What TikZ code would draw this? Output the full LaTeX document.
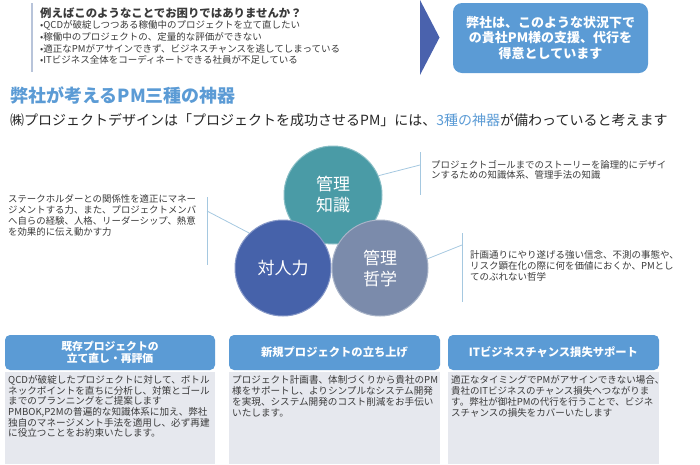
\documentclass[tikz,border=0pt]{standalone}
\usepackage{fontspec}
\setmainfont{Noto Sans CJK JP}
\definecolor{hblue}{HTML}{5B9BD5}
\definecolor{tealc}{HTML}{4A9BA6}
\definecolor{dblue}{HTML}{4662AA}
\definecolor{gblue}{HTML}{7B8BAB}
\definecolor{arrowblue}{HTML}{4A62AD}
\definecolor{bodygray}{HTML}{E6E8EE}
\definecolor{txt}{HTML}{3A3A3A}
\definecolor{linecol}{HTML}{A5C8E0}
\definecolor{barcol}{HTML}{B8C4DA}
\begin{document}
\begin{tikzpicture}[x=1pt,y=-1pt,
  lefttext/.style={anchor=west, align=left, inner sep=0pt, text=txt},
  circ/.style={circle, inner sep=0pt, text=white, align=center, font=\fontsize{17}{21}\selectfont, draw=white!35!#1, line width=1pt, fill=#1},
  hdr/.style={fill=hblue, rounded corners=5pt, text=white, align=center, minimum width=210pt, minimum height=35pt, inner sep=0pt, font=\bfseries\fontsize{10.8}{11.8}\selectfont},
  bodybox/.style={fill=bodygray, minimum width=210pt, minimum height=92pt, inner sep=0pt},
  conn/.style={draw=linecol, line width=0.8pt},
  bar/.style={draw=linecol, line width=0.8pt}
]
\useasboundingbox (0,0) rectangle (700,464);

% top-left question block
\coordinate (qb1) at (32,3);
\coordinate (qb2) at (32,72);
\draw[barcol, line width=1.2pt] (qb1) -- (qb2);
\node[lefttext, font=\bfseries\fontsize{11.4}{13}\selectfont] (qtitle) at (40,13) {例えばこのようなことでお困りではありませんか？};
\node[lefttext, font=\fontsize{9.5}{11.6}\selectfont] (qlist) at (40,42.7) {•QCDが破綻しつつある稼働中のプロジェクトを立て直したい\\•稼働中のプロジェクトの、定量的な評価ができない\\•適正なPMがアサインできず、ビジネスチャンスを逃してしまっている\\•ITビジネス全体をコーディネートできる社員が不足している};

% arrow
\fill[arrowblue] (420,0) -- (439.5,37.5) -- (420,75) -- cycle;

% message box
\node[fill=hblue, rounded corners=9pt, minimum width=195pt, minimum height=70pt, inner sep=0pt, text=white, align=center, font=\bfseries\fontsize{13}{15.5}\selectfont] (msg) at (550.5,38) {弊社は、このような状況下で\\の貴社PM様の支援、代行を\\得意としています};

% headings
\node[lefttext, text=hblue, font=\bfseries\fontsize{18}{20}\selectfont] (head) at (10,95) {弊社が考えるPM三種の神器};
\node[lefttext, text=black!85, font=\fontsize{14}{16}\selectfont] (sub) at (10,120) {㈱プロジェクトデザインは「プロジェクトを成功させるPM」には、\textcolor{hblue}{3種の神器}が備わっていると考えます};

% circles
\node[circ=tealc, minimum size=98pt] (c1) at (333,195) {管理\\知識};
\node[circ=dblue, minimum size=96pt] (c2) at (283,268) {対人力};
\node[circ=gblue, minimum size=96pt] (c3) at (380,268) {管理\\哲学};

% left description
\node[lefttext, font=\fontsize{9.4}{11}\selectfont] (d2) at (8,215.5) {ステークホルダーとの関係性を適正にマネー\\ジメントする力、また、プロジェクトメンバ\\へ自らの経験、人格、リーダーシップ、熱意\\を効果的に伝え動かす力};
\coordinate (b2t) at (207,197);
\coordinate (b2b) at (207,265);
\coordinate (b2m) at (207,211);
\draw[bar] (b2t) -- (b2b);
\draw[conn] (c2.134) -- (b2m);

% upper right description
\node[lefttext, font=\fontsize{9.4}{10.5}\selectfont] (d1) at (431,170) {プロジェクトゴールまでのストーリーを論理的にデザイ\\ンするための知識体系、管理手法の知識};
\coordinate (b1t) at (420,152);
\coordinate (b1b) at (420,195);
\coordinate (b1m) at (420,165);
\draw[bar] (b1t) -- (b1b);
\draw[conn] (c1.23) -- (b1m);

% lower right description
\node[lefttext, font=\fontsize{9.5}{11}\selectfont] (d3) at (470,266) {計画通りにやり遂げる強い信念、不測の事態や、\\リスク顕在化の際に何を価値におくか、PMとし\\てのぶれない哲学};
\coordinate (b3t) at (462,233);
\coordinate (b3b) at (462,302);
\coordinate (b3m) at (462,245);
\draw[bar] (b3t) -- (b3b);
\draw[conn] (c3.11) -- (b3m);

% bottom boxes
\node[bodybox] (bb1) at (110,418) {};
\node[bodybox, minimum width=211pt] (bb2) at (334.5,418) {};
\node[bodybox, minimum width=211pt] (bb3) at (553.5,418) {};
\node[hdr] (h1) at (110,352.5) {既存プロジェクトの\\立て直し・再評価};
\node[hdr, minimum width=211pt, font=\bfseries\fontsize{11.3}{13}\selectfont] (h2) at (334.5,352.5) {新規プロジェクトの立ち上げ};
\node[hdr, minimum width=211pt, font=\bfseries\fontsize{11.3}{13}\selectfont] (h3) at (553.5,352.5) {ITビジネスチャンス損失サポート};

\node[lefttext, font=\fontsize{9.6}{10.7}\selectfont] (t1) at (8,406.5) {QCDが破綻したプロジェクトに対して、ボトル\\ネックポイントを直ちに分析し、対策とゴール\\までのプランニングをご提案します\\PMBOK,P2Mの普遍的な知識体系に加え、弊社\\独自のマネージメント手法を適用し、必ず再建\\に役立つことをお約束いたします。};
\node[lefttext, font=\fontsize{9.6}{10.9}\selectfont] (t2) at (232,396.5) {プロジェクト計画書、体制づくりから貴社のPM\\様をサポートし、よりシンプルなシステム開発\\を実現、システム開発のコスト削減をお手伝い\\いたします。};
\node[lefttext, font=\fontsize{9.5}{10.9}\selectfont] (t3) at (451,396.5) {適正なタイミングでPMがアサインできない場合、\\貴社のITビジネスのチャンス損失へつながりま\\す。弊社が御社PMの代行を行うことで、ビジネ\\スチャンスの損失をカバーいたします};
\end{tikzpicture}
\end{document}
